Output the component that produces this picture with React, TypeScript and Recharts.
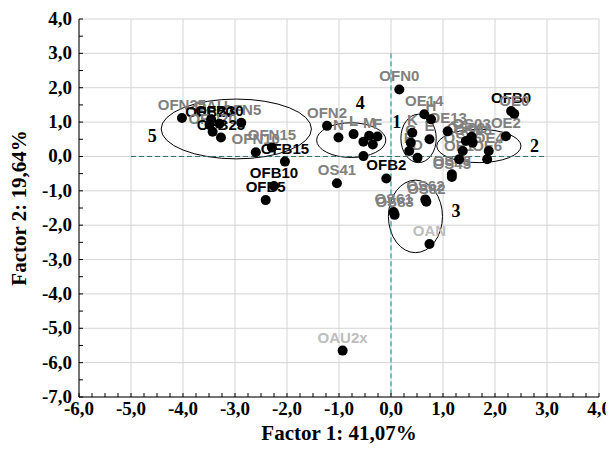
import React from 'react';
import {
  ScatterChart,
  Scatter,
  XAxis,
  YAxis,
  CartesianGrid,
  ReferenceLine,
  ReferenceArea,
  Label,
} from 'recharts';

// ---- data ----
const pointNames = [
  'OFN25', 'OAU', 'OFN5', 'OFB30', 'OFB20', 'OFN20', 'OFB25', 'OFN10', 'OFN15', 'OFB15', 'OFB10', 'OFB5',
  'OFN2', 'N', 'L', 'M', 'F', '', '', '',
  'OFN0', 'OE14', 'H', 'K', 'E', 'C', 'B', 'D',
  'OE13', 'OS03', 'OS02', 'OS08', 'OE2', 'OS06', 'OE4', 'OE6', 'OE1', 'OS48', 'OS43', 'OFB0', 'OE0',
  'OS62', 'OS82', 'OS61', 'OS83', 'OAN',
  'OS41', 'OFB2', 'OAU2x',
];
const factor1 = [
  -4.02, -3.46, -2.88, -3.30, -3.49, -3.43, -3.27, -2.60, -2.29, -2.04, -2.25, -2.41,
  -1.23, -1.01, -0.72, -0.42, -0.26, -0.53, -0.35, -0.53,
  0.16, 0.64, 0.77, 0.41, 0.74, 0.38, 0.35, 0.51,
  1.09, 1.55, 1.44, 1.57, 2.21, 1.38, 1.88, 1.85, 1.31, 1.17, 1.17, 2.31, 2.37,
  0.66, 0.68, 0.05, 0.07, 0.74,
  -1.04, -0.09, -0.93,
];
const factor2 = [
  1.12, 1.08, 0.98, 0.95, 0.92, 0.72, 0.55, 0.12, 0.26, -0.15, -0.86, -1.27,
  0.89, 0.55, 0.65, 0.60, 0.58, 0.43, 0.35, 0.01,
  1.95, 1.23, 1.08, 0.69, 0.50, 0.40, 0.16, -0.04,
  0.73, 0.57, 0.45, 0.40, 0.59, 0.16, 0.16, -0.08, -0.08, -0.52, -0.60, 1.32, 1.24,
  -1.25, -1.32, -1.62, -1.70, -2.55,
  -0.78, -0.64, -5.65,
];

// ellipses around groups (bounding boxes in factor units)
const groupIds = ['1', '2', '3', '4', '5'];
const groupX1 = [0.19, 0.88, -0.05, -1.43, -4.42];
const groupX2 = [0.87, 2.50, 0.99, -0.10, -1.53];
const groupY1 = [-0.18, -0.18, -2.80, -0.03, -0.07];
const groupY2 = [1.23, 0.79, -0.69, 0.98, 1.67];
const groupLabelX = [0.11, 2.76, 1.25, -0.59, -4.59];
const groupLabelY = [1.0, 0.30, -1.60, 1.55, 0.60];

const majorX = [-6, -5, -4, -3, -2, -1, 0, 1, 2, 3, 4];
const majorY = [-7, -6, -5, -4, -3, -2, -1, 0, 1, 2, 3, 4];
const xTitle = 'Factor 1: 41,07%';
const yTitle = 'Factor 2: 19,64%';

// ---- derived tables ----
const points = pointNames.map((name, i) => ({ name, x: factor1[i], y: factor2[i] }));
const groupLabels = groupIds.map((id, i) => ({ id, x: groupLabelX[i], y: groupLabelY[i] }));
const minorX: number[] = [];
for (let v = -6; v <= 4.0001; v += 0.25) minorX.push(Math.round(v * 100) / 100);
const minorY: number[] = [];
for (let v = -7; v <= 4.0001; v += 0.5) minorY.push(Math.round(v * 100) / 100);

const isMajor = (v: number) => Math.abs(v - Math.round(v)) < 1e-6;
const fmt = (v: number) => (Math.abs(v) < 1e-9 ? 0 : v).toFixed(1).replace('.', ',');

const SERIF = '"Liberation Serif", "Times New Roman", serif';
const SANS = '"Liberation Sans", Arial, sans-serif';

const labelColor = (name: string) => {
  if (name.startsWith('OFB')) return '#000000';
  if (name === 'OAN' || name === 'OAU2x') return '#bdbdbd';
  return '#808080';
};

const BottomTick = (props: any) => {
  const { x, y, payload } = props;
  const v = payload.value;
  return (
    <g>
      <line x1={x} x2={x} y1={y} y2={y - 4} stroke="#000" />
      {isMajor(v) && (
        <text x={x} y={y + 18} textAnchor="middle" fontFamily={SERIF} fontWeight="bold" fontSize={19} fill="#000">
          {fmt(v)}
        </text>
      )}
    </g>
  );
};
const TopTick = (props: any) => {
  const { x, y } = props;
  return <line x1={x} x2={x} y1={y} y2={y + 4} stroke="#000" />;
};
const LeftTick = (props: any) => {
  const { x, y, payload } = props;
  const v = payload.value;
  return (
    <g>
      <line x1={x} x2={x + 4} y1={y} y2={y} stroke="#000" />
      {isMajor(v) && (
        <text x={x - 7} y={y + 6} textAnchor="end" fontFamily={SERIF} fontWeight="bold" fontSize={19} fill="#000">
          {fmt(v)}
        </text>
      )}
    </g>
  );
};
const RightTick = (props: any) => {
  const { x, y } = props;
  return <line x1={x} x2={x - 4} y1={y} y2={y} stroke="#000" />;
};

const XTitle = (props: any) => {
  const vb = props.viewBox;
  return (
    <text x={vb.x + vb.width / 2} y={vb.y + 43} textAnchor="middle" fontFamily={SERIF} fontWeight="bold" fontSize={21} fill="#000">
      {xTitle}
    </text>
  );
};
const YTitle = (props: any) => {
  const vb = props.viewBox;
  const cx = vb.x + 11;
  const cy = vb.y + vb.height / 2;
  return (
    <text
      x={cx}
      y={cy}
      transform={`rotate(-90 ${cx} ${cy})`}
      textAnchor="middle"
      dominantBaseline="central"
      fontFamily={SERIF}
      fontWeight="bold"
      fontSize={21}
      fill="#000"
    >
      {yTitle}
    </text>
  );
};

const Dot = (props: any) => <circle cx={props.cx} cy={props.cy} r={5} fill="#000" />;
const PointText = (props: any) => {
  const name = props.payload?.name ?? '';
  if (!name) return <g />;
  return (
    <text
      x={props.cx}
      y={props.cy - 8}
      textAnchor="middle"
      fontFamily={SANS}
      fontWeight="bold"
      fontSize={15}
      fill={labelColor(name)}
    >
      {name}
    </text>
  );
};
const GroupText = (props: any) => (
  <text
    x={props.cx}
    y={props.cy}
    textAnchor="middle"
    dominantBaseline="central"
    fontFamily={SERIF}
    fontWeight="bold"
    fontSize={18}
    fill="#000"
  >
    {props.payload?.id}
  </text>
);
const EllipseShape = (props: any) => {
  const { x, y, width, height } = props;
  return (
    <ellipse cx={x + width / 2} cy={y + height / 2} rx={Math.abs(width) / 2} ry={Math.abs(height) / 2} fill="none" stroke="#000" strokeWidth={1} />
  );
};

export default function App() {
  return (
    <ScatterChart width={606} height={436} margin={{ top: 11, right: 15, bottom: 0, left: 0 }}>
      <CartesianGrid stroke="#d4d4d4" verticalValues={majorX} horizontalValues={majorY} />
      <XAxis
        type="number"
        dataKey="x"
        domain={[-6, 4]}
        ticks={minorX}
        interval={0}
        allowDataOverflow
        height={47}
        tickSize={0}
        tickMargin={0}
        tickLine={false}
        axisLine={{ stroke: '#000' }}
        tick={<BottomTick />}
      >
        <Label content={<XTitle />} />
      </XAxis>
      <XAxis
        xAxisId="top"
        orientation="top"
        type="number"
        domain={[-6, 4]}
        ticks={minorX}
        interval={0}
        allowDataOverflow
        height={0}
        tickSize={0}
        tickMargin={0}
        tickLine={false}
        axisLine={{ stroke: '#000' }}
        tick={<TopTick />}
      />
      <YAxis
        type="number"
        dataKey="y"
        domain={[-7, 4]}
        ticks={minorY}
        interval={0}
        allowDataOverflow
        width={71}
        tickSize={0}
        tickMargin={0}
        tickLine={false}
        axisLine={{ stroke: '#000' }}
        tick={<LeftTick />}
      >
        <Label content={<YTitle />} />
      </YAxis>
      <YAxis
        yAxisId="right"
        orientation="right"
        type="number"
        domain={[-7, 4]}
        ticks={minorY}
        interval={0}
        allowDataOverflow
        width={0}
        tickSize={0}
        tickMargin={0}
        tickLine={false}
        axisLine={{ stroke: '#000' }}
        tick={<RightTick />}
      />
      <ReferenceLine
        segment={[{ x: -5, y: 0 }, { x: 3, y: 0 }]}
        stroke="#2e6f6f"
        strokeDasharray="5 3"
        strokeWidth={1}
      />
      <ReferenceLine
        segment={[{ x: 0, y: 3 }, { x: 0, y: -7 }]}
        stroke="#009999"
        strokeDasharray="5 3"
        strokeWidth={1}
      />
      {groupIds.map((id, i) => (
        <ReferenceArea
          key={id}
          x1={groupX1[i]}
          x2={groupX2[i]}
          y1={groupY1[i]}
          y2={groupY2[i]}
          ifOverflow="visible"
          shape={<EllipseShape />}
        />
      ))}
      <Scatter data={points} shape={<PointText />} isAnimationActive={false} />
      <Scatter data={points} shape={<Dot />} isAnimationActive={false} />
      <Scatter data={groupLabels} shape={<GroupText />} isAnimationActive={false} />
    </ScatterChart>
  );
}
